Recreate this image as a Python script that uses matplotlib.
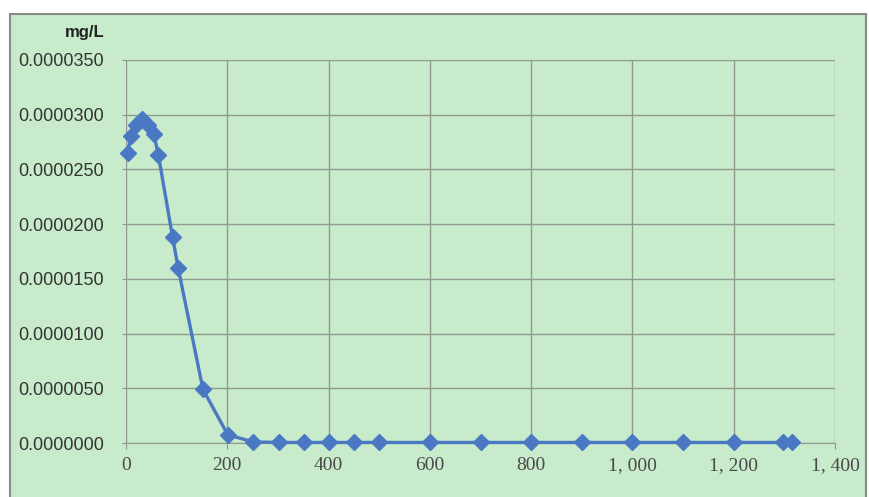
import matplotlib.pyplot as plt
from matplotlib.patches import Rectangle

# time vs concentration
time_vals = [3, 10, 20, 32, 44, 55, 64, 92, 103, 152, 201,
             251, 302, 351, 400, 450, 500, 600, 700, 800, 900,
             1000, 1100, 1200, 1297, 1316]
conc_vals = [26.5, 28.1, 29.1, 29.6, 29.1, 28.2, 26.3, 18.8, 16.0, 4.9, 0.75,
             0.1, 0.05, 0.05, 0.05, 0.05, 0.05, 0.05, 0.05, 0.05, 0.05,
             0.05, 0.05, 0.05, 0.05, 0.05]
conc_vals = [c * 1e-6 for c in conc_vals]

x_ticks = [0, 200, 400, 600, 800, 1000, 1200, 1400]
x_labels = ['0', '200', '400', '600', '800', '1, 000', '1, 200', '1, 400']
y_ticks = [i * 5e-6 for i in range(8)]
y_labels = ['0.0000000', '0.0000050', '0.0000100', '0.0000150',
            '0.0000200', '0.0000250', '0.0000300', '0.0000350']

bg = '#c7ebcb'
blue = '#4a78c2'
grid_col = '#8f9b91'

fig = plt.figure(figsize=(8.69, 4.97), dpi=100)
fig.patch.set_facecolor('white')
fig.patches.append(Rectangle((10 / 869, -0.01), 856 / 869, 1 - 14 / 497 + 0.01,
                             transform=fig.transFigure, facecolor=bg,
                             edgecolor='#8a8a8a', linewidth=1.5, zorder=-1))

ax = fig.add_axes([126 / 869, 1 - 443 / 497, 709 / 869, 383 / 497])
ax.set_facecolor(bg)
ax.plot(time_vals, conc_vals, color=blue, linewidth=2.4, marker='D',
        markersize=8, markerfacecolor=blue, markeredgecolor=blue,
        clip_on=False, zorder=3)

ax.set_xlim(0, 1400)
ax.set_ylim(0, 3.5e-5)
ax.set_xticks(x_ticks)
ax.set_xticklabels(x_labels, family='Liberation Serif', fontsize=14, color='#4a4a4a')
ax.set_yticks(y_ticks)
ax.set_yticklabels(y_labels, family='Liberation Sans', fontsize=13, color='#333333')
ax.grid(True, color=grid_col, linewidth=1.0)
ax.set_axisbelow(True)
for s in ['top', 'right', 'left']:
    ax.spines[s].set_visible(False)
ax.spines['bottom'].set_color(grid_col)
ax.tick_params(axis='x', length=4, color=grid_col, pad=6)
ax.tick_params(axis='y', length=3, color=grid_col, pad=13)

fig.text(105 / 869, 1 - 33 / 497, 'mg/L', ha='right', va='center',
         fontsize=12, fontweight='bold', family='Liberation Sans', color='#222222')

fig.savefig('out.png', dpi=100, facecolor=fig.get_facecolor())
